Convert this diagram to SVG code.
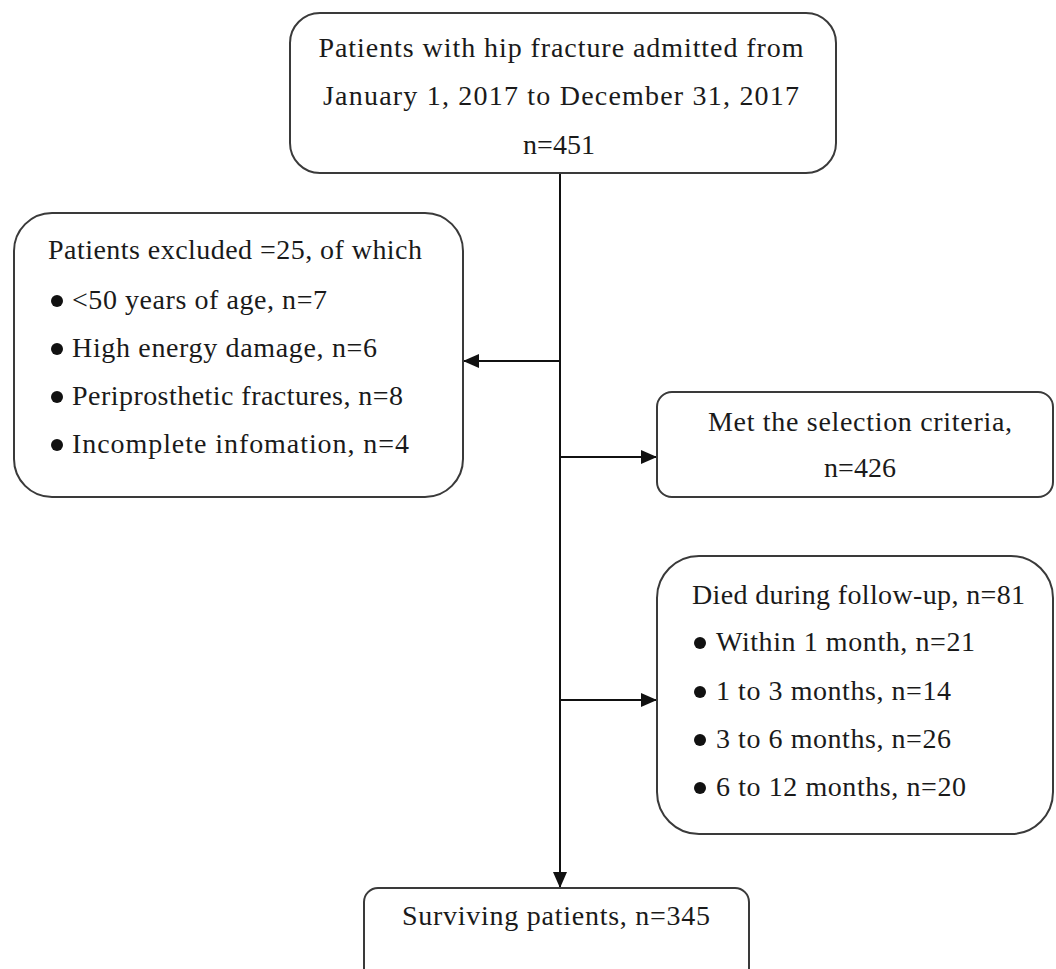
<svg xmlns="http://www.w3.org/2000/svg" width="1056" height="969" viewBox="0 0 1056 969">
<style>
.box{fill:#fff;stroke:#3a3a3a;stroke-width:2}
.t{font-family:"Liberation Serif","Times New Roman",serif;font-size:28px;fill:#1a1a1a}
.c{text-anchor:middle}
.ln{stroke:#111;stroke-width:2;fill:none}
.dot{fill:#111}
</style>
<defs>
<marker id="ah" markerWidth="16" markerHeight="14" refX="15" refY="7" orient="auto" markerUnits="userSpaceOnUse">
<path d="M0,0 L16,7 L0,14 Z" fill="#111"/>
</marker>
</defs>
<rect width="1056" height="969" fill="#fff"/>
<g id="connectors">
<line class="ln" x1="560" y1="173" x2="560" y2="887" marker-end="url(#ah)"/>
<line class="ln" x1="560" y1="361" x2="464" y2="361" marker-end="url(#ah)"/>
<line class="ln" x1="560" y1="457" x2="656" y2="457" marker-end="url(#ah)"/>
<line class="ln" x1="560" y1="700" x2="656" y2="700" marker-end="url(#ah)"/>
</g>
<g id="node-admitted">
<rect class="box" x="290" y="13" width="546" height="160" rx="30"/>
<text class="t c" x="561" y="57" textLength="485" lengthAdjust="spacing">Patients with hip fracture admitted from</text>
<text class="t c" x="561" y="105" textLength="476" lengthAdjust="spacing">January 1, 2017 to December 31, 2017</text>
<text class="t c" x="559" y="154">n=451</text>
</g>
<g id="node-excluded">
<rect class="box" x="14" y="213" width="449" height="284" rx="38"/>
<text class="t" x="48" y="259" textLength="374" lengthAdjust="spacing">Patients excluded =25, of which</text>
<circle class="dot" cx="57" cy="301" r="6"/>
<text class="t" x="72" y="309" textLength="255" lengthAdjust="spacing">&lt;50 years of age, n=7</text>
<circle class="dot" cx="57" cy="349" r="6"/>
<text class="t" x="72" y="357" textLength="305" lengthAdjust="spacing">High energy damage, n=6</text>
<circle class="dot" cx="57" cy="397" r="6"/>
<text class="t" x="72" y="405" textLength="331" lengthAdjust="spacing">Periprosthetic fractures, n=8</text>
<circle class="dot" cx="57" cy="445" r="6"/>
<text class="t" x="72" y="453" textLength="337" lengthAdjust="spacing">Incomplete infomation, n=4</text>
</g>
<g id="node-selected">
<rect class="box" x="657" y="392" width="396" height="105" rx="15"/>
<text class="t c" x="860" y="431" textLength="304" lengthAdjust="spacing">Met the selection criteria,</text>
<text class="t c" x="860" y="477">n=426</text>
</g>
<g id="node-died">
<rect class="box" x="657" y="556" width="396" height="278" rx="42"/>
<text class="t" x="692" y="604" textLength="333" lengthAdjust="spacing">Died during follow-up, n=81</text>
<circle class="dot" cx="700" cy="643" r="6"/>
<text class="t" x="716" y="651" textLength="259" lengthAdjust="spacing">Within 1 month, n=21</text>
<circle class="dot" cx="700" cy="692" r="6"/>
<text class="t" x="716" y="700" textLength="235" lengthAdjust="spacing">1 to 3 months, n=14</text>
<circle class="dot" cx="700" cy="740" r="6"/>
<text class="t" x="716" y="748" textLength="235" lengthAdjust="spacing">3 to 6 months, n=26</text>
<circle class="dot" cx="700" cy="788" r="6"/>
<text class="t" x="716" y="796" textLength="250" lengthAdjust="spacing">6 to 12 months, n=20</text>
</g>
<g id="node-surviving">
<rect class="box" x="364" y="888" width="385" height="120" rx="14"/>
<text class="t" x="402" y="925" textLength="308" lengthAdjust="spacing">Surviving patients, n=345</text>
</g>
</svg>
